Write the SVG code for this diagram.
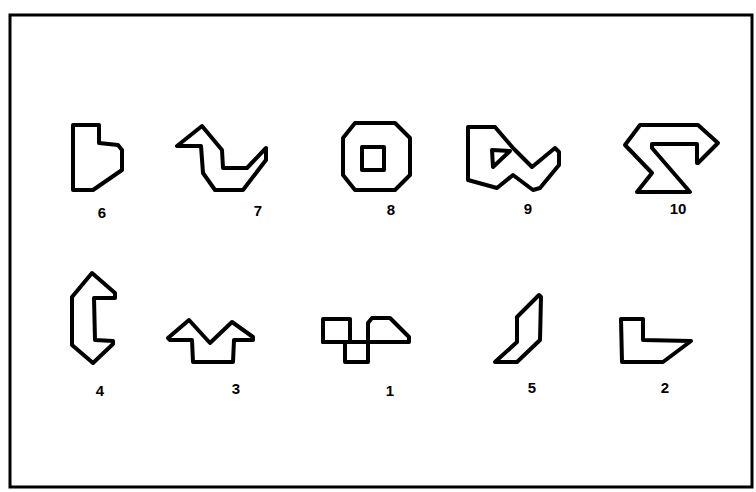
<svg xmlns="http://www.w3.org/2000/svg" width="756" height="492" viewBox="0 0 756 492">
<style>
.s{fill:none;stroke:#000;stroke-width:4;stroke-linejoin:round;stroke-linecap:round}
.f{fill:none;stroke:#000;stroke-width:3}
.t{font-family:"Liberation Sans",Arial,sans-serif;font-weight:bold;font-size:15px;fill:#000;text-anchor:middle}
</style>
<rect width="756" height="492" fill="#fff"/>
<rect class="f" x="10" y="15" width="742" height="472"/>
<g id="fig6"><polygon class="s" points="73,125 99,125 99,143 118,145 122,150 122,170 93,190 73,190"/><text class="t" x="102" y="218">6</text></g>
<g id="fig7"><polygon class="s" points="202,126 177,146 201,146 203,173 215,190 243,190 266,160 266,148 247,168 223,168 222,150"/><text class="t" x="258" y="216">7</text></g>
<g id="fig8"><polygon class="s" points="355,123 395,123 410,138 410,175 395,190 355,190 343,175 343,138"/><rect class="s" x="362" y="147" width="22" height="23"/><text class="t" x="391" y="215">8</text></g>
<g id="fig9"><polygon class="s" points="468,127 495,127 513,148 532,167 555,148 559,152 559,165 540,188 533,190 513,175 497,188 468,180"/><polygon class="s" points="492,150 510,151 493,167"/><text class="t" x="528" y="214">9</text></g>
<g id="fig10"><polygon class="s" points="640,125 698,125 718,143 698,163 697,163 697,144 652,144 652,148 690,192 637,192 652,173 625,145"/><text class="t" x="678" y="214">10</text></g>
<g id="fig4"><polygon class="s" points="92,273 115,293 115,298 94,298 95,340 113,341 113,344 93,363 72,345 72,297"/><text class="t" x="100" y="396">4</text></g>
<g id="fig3"><polygon class="s" points="168,338 189,320 210,343 232,322 253,337 253,340 234,340 233,362 193,362 192,340 170,340"/><text class="t" x="236" y="394">3</text></g>
<g id="fig1"><rect class="s" x="323" y="319" width="27" height="23"/><polyline class="s" points="368,342 368,323 372,318 390,318 409,337 409,342 323,342"/><rect class="s" x="345" y="342" width="23" height="20"/><text class="t" x="390" y="396">1</text></g>
<g id="fig5"><polygon class="s" points="539,295 541,297 540,340 517,362 495,362 517,342 517,317"/><text class="t" x="532" y="393">5</text></g>
<g id="fig2"><polygon class="s" points="621,319 643,319 643,340 691,341 663,362 622,362"/><text class="t" x="665" y="393">2</text></g>
</svg>
